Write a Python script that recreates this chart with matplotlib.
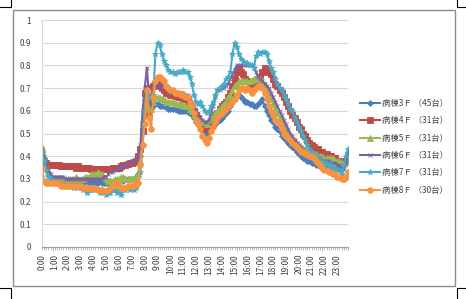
import matplotlib.pyplot as plt
from matplotlib.lines import Line2D
from matplotlib.patches import Rectangle

plt.rcParams['font.family'] = ['Noto Sans CJK JP', 'DejaVu Sans']

# 10-minute samples, 0:00 .. 23:50 (one row per hour)
ward_3f = [0.42, 0.39, 0.36, 0.33, 0.31, 0.30,
           0.30, 0.30, 0.29, 0.30, 0.29, 0.29,
           0.29, 0.29, 0.29, 0.28, 0.29, 0.29,
           0.29, 0.28, 0.29, 0.29, 0.28, 0.28,
           0.29, 0.28, 0.28, 0.29, 0.28, 0.28,
           0.28, 0.28, 0.29, 0.28, 0.29, 0.29,
           0.29, 0.30, 0.29, 0.30, 0.30, 0.30,
           0.30, 0.30, 0.31, 0.32, 0.40, 0.55,
           0.62, 0.65, 0.60, 0.61, 0.62, 0.63,
           0.63, 0.62, 0.62, 0.62, 0.615, 0.61,
           0.61, 0.61, 0.61, 0.605, 0.60, 0.60,
           0.60, 0.60, 0.595, 0.59, 0.58, 0.57,
           0.55, 0.54, 0.53, 0.52, 0.51, 0.50,
           0.51, 0.52, 0.53, 0.54, 0.55, 0.56,
           0.57, 0.58, 0.59, 0.60, 0.62, 0.64,
           0.66, 0.67, 0.67, 0.66, 0.65, 0.64,
           0.64, 0.63, 0.63, 0.62, 0.62, 0.63,
           0.64, 0.65, 0.62, 0.60, 0.58, 0.56,
           0.55, 0.53, 0.52, 0.51, 0.49, 0.48,
           0.47, 0.46, 0.45, 0.44, 0.43, 0.42,
           0.41, 0.40, 0.39, 0.39, 0.38, 0.38,
           0.37, 0.37, 0.36, 0.36, 0.36, 0.35,
           0.35, 0.35, 0.35, 0.35, 0.35, 0.35,
           0.35, 0.35, 0.36, 0.37, 0.39, 0.42]

ward_4f = [0.39, 0.38, 0.37, 0.36, 0.36, 0.36,
           0.36, 0.36, 0.36, 0.355, 0.355, 0.355,
           0.355, 0.355, 0.355, 0.355, 0.35, 0.355,
           0.35, 0.35, 0.35, 0.35, 0.35, 0.345,
           0.345, 0.345, 0.345, 0.345, 0.345, 0.345,
           0.345, 0.345, 0.345, 0.35, 0.35, 0.35,
           0.35, 0.355, 0.36, 0.36, 0.365, 0.37,
           0.37, 0.375, 0.38, 0.40, 0.43, 0.51,
           0.68, 0.70, 0.58, 0.66, 0.71, 0.72,
           0.72, 0.71, 0.70, 0.69, 0.68, 0.68,
           0.67, 0.67, 0.665, 0.665, 0.66, 0.66,
           0.65, 0.65, 0.64, 0.63, 0.61, 0.60,
           0.58, 0.57, 0.55, 0.54, 0.53, 0.52,
           0.52, 0.54, 0.56, 0.58, 0.59, 0.61,
           0.62, 0.63, 0.64, 0.66, 0.68, 0.71,
           0.74, 0.77, 0.79, 0.77, 0.76, 0.74,
           0.73, 0.72, 0.72, 0.72, 0.73, 0.74,
           0.75, 0.77, 0.79, 0.78, 0.77, 0.76,
           0.74, 0.72, 0.71, 0.69, 0.68, 0.66,
           0.64, 0.62, 0.60, 0.58, 0.57, 0.55,
           0.53, 0.52, 0.50, 0.49, 0.47, 0.46,
           0.45, 0.44, 0.43, 0.43, 0.42, 0.42,
           0.41, 0.41, 0.40, 0.40, 0.39, 0.39,
           0.38, 0.38, 0.37, 0.37, 0.38, 0.40]

ward_5f = [0.44, 0.40, 0.36, 0.33, 0.31, 0.30,
           0.30, 0.30, 0.30, 0.30, 0.30, 0.30,
           0.30, 0.30, 0.30, 0.30, 0.31, 0.30,
           0.30, 0.30, 0.31, 0.31, 0.31, 0.32,
           0.32, 0.32, 0.33, 0.32, 0.32, 0.31,
           0.30, 0.29, 0.29, 0.29, 0.30, 0.30,
           0.30, 0.31, 0.31, 0.30, 0.30, 0.30,
           0.30, 0.30, 0.31, 0.32, 0.38, 0.55,
           0.66, 0.70, 0.62, 0.61, 0.64, 0.66,
           0.66, 0.655, 0.65, 0.65, 0.64, 0.64,
           0.64, 0.64, 0.635, 0.63, 0.63, 0.63,
           0.625, 0.62, 0.62, 0.61, 0.60, 0.58,
           0.57, 0.56, 0.56, 0.55, 0.55, 0.54,
           0.56, 0.57, 0.58, 0.59, 0.60, 0.61,
           0.62, 0.63, 0.64, 0.66, 0.67, 0.69,
           0.71, 0.72, 0.73, 0.73, 0.73, 0.73,
           0.73, 0.73, 0.735, 0.74, 0.74, 0.74,
           0.74, 0.73, 0.72, 0.69, 0.67, 0.65,
           0.63, 0.61, 0.59, 0.57, 0.55, 0.53,
           0.52, 0.50, 0.49, 0.48, 0.47, 0.46,
           0.45, 0.44, 0.43, 0.43, 0.42, 0.42,
           0.41, 0.41, 0.41, 0.40, 0.40, 0.40,
           0.39, 0.39, 0.39, 0.39, 0.39, 0.38,
           0.38, 0.38, 0.37, 0.37, 0.38, 0.39]

ward_6f = [0.43, 0.40, 0.37, 0.34, 0.32, 0.31,
           0.31, 0.31, 0.31, 0.31, 0.31, 0.30,
           0.30, 0.30, 0.30, 0.30, 0.30, 0.30,
           0.30, 0.30, 0.30, 0.30, 0.30, 0.30,
           0.30, 0.30, 0.30, 0.30, 0.30, 0.31,
           0.31, 0.32, 0.33, 0.33, 0.34, 0.34,
           0.35, 0.35, 0.36, 0.36, 0.37, 0.37,
           0.38, 0.38, 0.39, 0.40, 0.45, 0.60,
           0.70, 0.79, 0.66, 0.62, 0.68, 0.71,
           0.72, 0.71, 0.70, 0.70, 0.69, 0.69,
           0.68, 0.68, 0.68, 0.68, 0.68, 0.68,
           0.68, 0.67, 0.67, 0.66, 0.64, 0.62,
           0.60, 0.58, 0.57, 0.56, 0.55, 0.55,
           0.56, 0.59, 0.62, 0.66, 0.69, 0.69,
           0.70, 0.70, 0.71, 0.72, 0.74, 0.76,
           0.78, 0.80, 0.80, 0.80, 0.80, 0.80,
           0.80, 0.80, 0.80, 0.79, 0.77, 0.75,
           0.74, 0.73, 0.72, 0.71, 0.70, 0.68,
           0.66, 0.64, 0.62, 0.60, 0.58, 0.56,
           0.54, 0.52, 0.50, 0.49, 0.47, 0.46,
           0.45, 0.44, 0.43, 0.42, 0.41, 0.41,
           0.40, 0.40, 0.39, 0.39, 0.39, 0.38,
           0.38, 0.38, 0.38, 0.37, 0.37, 0.37,
           0.36, 0.36, 0.35, 0.34, 0.37, 0.40]

ward_7f = [0.42, 0.38, 0.34, 0.31, 0.30, 0.29,
           0.29, 0.28, 0.28, 0.28, 0.27, 0.27,
           0.27, 0.27, 0.27, 0.26, 0.27, 0.26,
           0.26, 0.25, 0.26, 0.24, 0.25, 0.25,
           0.25, 0.26, 0.25, 0.24, 0.25, 0.24,
           0.23, 0.24, 0.24, 0.25, 0.25, 0.24,
           0.25, 0.23, 0.25, 0.25, 0.26, 0.25,
           0.26, 0.25, 0.26, 0.28, 0.33, 0.45,
           0.60, 0.68, 0.66, 0.65, 0.67, 0.85,
           0.90, 0.89, 0.85, 0.82, 0.80, 0.78,
           0.77, 0.77, 0.76, 0.77, 0.77, 0.77,
           0.78, 0.77, 0.77, 0.75, 0.72, 0.67,
           0.64, 0.63, 0.64, 0.62, 0.60, 0.59,
           0.60, 0.62, 0.64, 0.67, 0.69, 0.70,
           0.71, 0.72, 0.74, 0.75, 0.77, 0.85,
           0.90, 0.88, 0.85, 0.83, 0.82, 0.81,
           0.81, 0.80, 0.80, 0.79, 0.84, 0.86,
           0.85, 0.86, 0.86, 0.85, 0.82, 0.79,
           0.77, 0.74, 0.72, 0.70, 0.69, 0.67,
           0.65, 0.63, 0.61, 0.60, 0.57, 0.55,
           0.53, 0.51, 0.49, 0.47, 0.45, 0.43,
           0.42, 0.41, 0.40, 0.39, 0.38, 0.38,
           0.37, 0.37, 0.36, 0.36, 0.35, 0.35,
           0.34, 0.34, 0.32, 0.36, 0.40, 0.43]

ward_8f = [0.35, 0.29, 0.28, 0.28, 0.28, 0.28,
           0.28, 0.28, 0.28, 0.27, 0.27, 0.27,
           0.27, 0.27, 0.27, 0.27, 0.27, 0.27,
           0.27, 0.26, 0.26, 0.26, 0.26, 0.26,
           0.26, 0.26, 0.25, 0.25, 0.25, 0.245,
           0.245, 0.25, 0.26, 0.27, 0.28, 0.28,
           0.27, 0.26, 0.26, 0.26, 0.27, 0.27,
           0.27, 0.27, 0.28, 0.28, 0.36, 0.45,
           0.54, 0.69, 0.57, 0.52, 0.66, 0.73,
           0.75, 0.75, 0.74, 0.73, 0.71, 0.70,
           0.69, 0.69, 0.68, 0.68, 0.68, 0.67,
           0.67, 0.66, 0.66, 0.64, 0.62, 0.59,
           0.56, 0.54, 0.52, 0.49, 0.47, 0.46,
           0.48, 0.51, 0.53, 0.55, 0.57, 0.58,
           0.59, 0.60, 0.61, 0.62, 0.63, 0.64,
           0.65, 0.67, 0.69, 0.70, 0.70, 0.69,
           0.70, 0.69, 0.68, 0.69, 0.70, 0.71,
           0.71, 0.70, 0.68, 0.65, 0.62, 0.60,
           0.58, 0.56, 0.55, 0.54, 0.52, 0.50,
           0.49, 0.48, 0.47, 0.46, 0.45, 0.44,
           0.43, 0.42, 0.42, 0.41, 0.41, 0.40,
           0.40, 0.39, 0.38, 0.37, 0.36, 0.35,
           0.34, 0.34, 0.33, 0.33, 0.32, 0.32,
           0.31, 0.31, 0.30, 0.30, 0.31, 0.33]

labels = ['病棟3Ｆ （45台）', '病棟4Ｆ （31台）', '病棟5Ｆ （31台）',
          '病棟6Ｆ （31台）', '病棟7Ｆ （31台）', '病棟8Ｆ （30台）']
hour_labels = ['%d:00' % h for h in range(24)]

series = [ward_3f, ward_4f, ward_5f, ward_6f, ward_7f, ward_8f]
colors = ['#4A7EBB', '#BE4B48', '#98B954', '#7D60A0', '#46AAC5', '#F69240']
markers = ['D', 's', '^', 'x', '*', 'o']
msizes = [3.0, 4.0, 3.8, 3.5, 4.0, 4.0]

fig = plt.figure(figsize=(4.66, 2.99), dpi=100)
ax = fig.add_axes([42 / 466, 1 - 247 / 299, (348 - 42) / 466, (247 - 20) / 299])

x = list(range(len(ward_3f)))
for vals, lab, c, m, ms in zip(series, labels, colors, markers, msizes):
    ax.plot(x, vals, color=c, marker=m, markersize=ms, markeredgewidth=0.6,
            linewidth=1.5, label=lab)

ax.set_xlim(0, len(x) - 1)
ax.set_ylim(0, 1)
ax.set_yticks([i / 10 for i in range(11)])
ax.set_yticklabels(['0', '0.1', '0.2', '0.3', '0.4', '0.5', '0.6', '0.7', '0.8', '0.9', '1'])
ax.set_xticks(range(0, len(x), 6))
ax.set_xticklabels(hour_labels, rotation=90)
ax.set_xticks(x, minor=True)
ax.tick_params(axis='x', which='both', length=2, width=0.5, color='#A0A0A0',
               labelsize=6, labelcolor='#404040', pad=3)
ax.tick_params(axis='y', length=0, labelsize=6, labelcolor='#404040', pad=8)
ax.grid(axis='y', color='#D9D9D9', linewidth=0.8)
ax.set_axisbelow(True)
for s in ['top', 'right']:
    ax.spines[s].set_visible(False)
ax.spines['left'].set_color('#D9D9D9')
ax.spines['bottom'].set_color('#A0A0A0')

ax.legend(loc='upper left', bbox_to_anchor=(360 / 466, 1 - 99 / 299),
          bbox_transform=fig.transFigure, frameon=False, fontsize=6,
          handlelength=2.4, handletextpad=0.3, labelspacing=1.0,
          borderaxespad=0, borderpad=0, labelcolor='#404040')

# outer chart border
fig.patches.append(Rectangle((12.5 / 466, 1 - 286 / 299), (455 - 12.5) / 466, (286 - 10) / 299,
                             transform=fig.transFigure, fill=False,
                             edgecolor='#8C8C8C', linewidth=1.0))

# corner crop marks
def px_line(x0, y0, x1, y1):
    fig.add_artist(Line2D([x0 / 466, x1 / 466], [1 - y0 / 299, 1 - y1 / 299],
                          color='black', linewidth=0.8))

px_line(0, 7, 11, 7)
px_line(11, 0, 11, 7)
px_line(457, 7, 466, 7)
px_line(457, 0, 457, 7)
px_line(0, 288, 11, 288)
px_line(11, 288, 11, 299)
px_line(457, 288, 466, 288)
px_line(457, 288, 457, 299)

fig.savefig('out.png', dpi=100)
